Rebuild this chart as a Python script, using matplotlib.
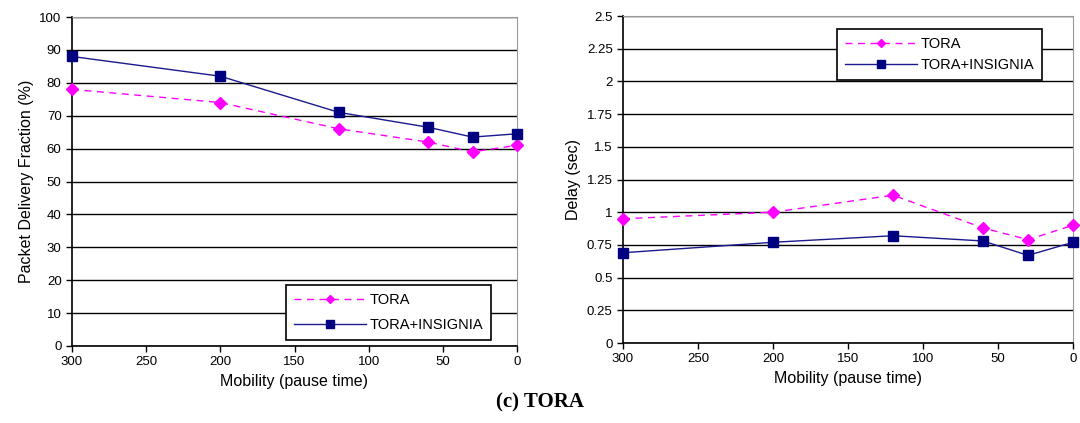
import matplotlib.pyplot as plt

# 데이터
pause = [300, 200, 120, 60, 30, 0]
pdf_tora = [78, 74, 66, 62, 59, 61]
pdf_insignia = [88, 82, 71, 66.5, 63.5, 64.5]
delay_tora = [0.95, 1.0, 1.13, 0.88, 0.79, 0.9]
delay_insignia = [0.69, 0.77, 0.82, 0.78, 0.67, 0.77]

plt.rcParams['font.family'] = ['Liberation Sans', 'DejaVu Sans']

fig = plt.figure(figsize=(10.8, 4.23), dpi=100)
ax1 = fig.add_axes([72/1080, 1-346/423, (517-72)/1080, (346-17)/423])
ax2 = fig.add_axes([623/1080, 1-343/423, (1073-623)/1080, (343-16)/423])


def style(ax, tora, ins, ymax, yticks, ylabels, ylabel, legend_loc, anchor, spacing):
    ax.plot(pause, tora, color='#FF00FF', ls='--', dashes=(5, 4), lw=1, marker='D',
            ms=6, label='TORA', clip_on=False, zorder=3)
    ax.plot(pause, ins, color='#1a1a8c', ls='-', lw=1, marker='s', mfc='#000080',
            mec='#000080', ms=7.5, label='TORA+INSIGNIA', clip_on=False, zorder=3)
    ax.set_xlim(300, 0)
    ax.set_ylim(0, ymax)
    ax.set_xticks([300, 250, 200, 150, 100, 50, 0])
    ax.set_yticks(yticks)
    ax.set_yticklabels(ylabels)
    ax.tick_params(labelsize=9.5, direction='out', length=4, width=1)
    ax.grid(axis='y', color='black', lw=1)
    ax.set_axisbelow(True)
    for s in ['left', 'bottom']:
        ax.spines[s].set_color('black')
        ax.spines[s].set_linewidth(1.2)
    for s in ['top', 'right']:
        ax.spines[s].set_color('#999999')
    ax.set_xlabel('Mobility (pause time)', fontsize=11.5, labelpad=4)
    ax.set_ylabel(ylabel, fontsize=11.5, labelpad=4)
    leg = ax.legend(loc=legend_loc, bbox_to_anchor=anchor, borderaxespad=0,
                    fancybox=False, framealpha=1, edgecolor='black', fontsize=10.5,
                    handlelength=4.9, handletextpad=0.25, borderpad=0.55,
                    labelspacing=spacing, markerscale=0.7)
    leg.get_frame().set_linewidth(1.2)


style(ax1, pdf_tora, pdf_insignia, 100, range(0, 101, 10),
      [str(v) for v in range(0, 101, 10)],
      'Packet Delivery Fraction (%)', 'lower right', (0.9416, 0.018), 0.75)
dt = [0, 0.25, 0.5, 0.75, 1, 1.25, 1.5, 1.75, 2, 2.25, 2.5]
style(ax2, delay_tora, delay_insignia, 2.5, dt,
      ['0', '0.25', '0.5', '0.75', '1', '1.25', '1.5', '1.75', '2', '2.25', '2.5'],
      'Delay (sec)', 'upper right', (0.931, 0.96), 0.45)

fig.text(0.5, 1-402/423, '(c) TORA', ha='center', va='center', fontsize=15,
         fontweight='bold', family='Liberation Serif')

plt.savefig('out.png')
